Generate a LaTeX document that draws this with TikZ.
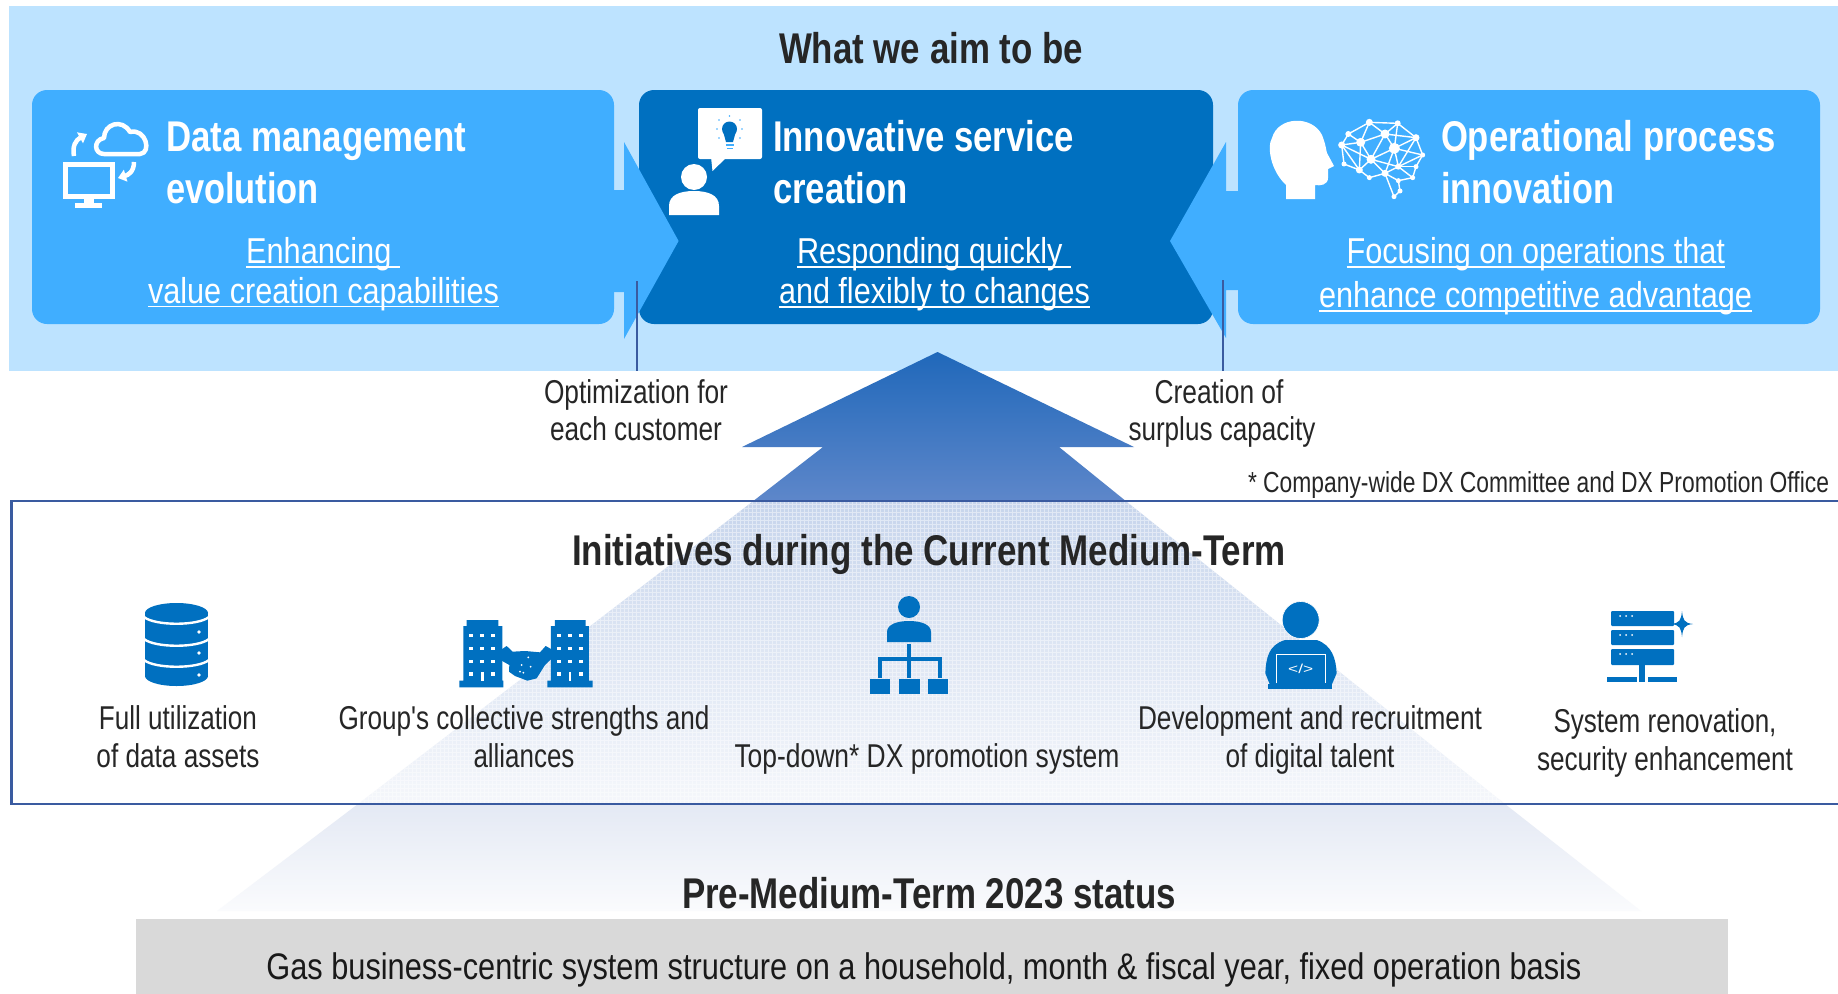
\documentclass[tikz,border=0pt]{standalone}
\usepackage{fontspec}
\usepackage{graphicx}
\setmainfont{Liberation Sans}
\newfontfamily\plainf{Liberation Sans}
\usetikzlibrary{arrows.meta}
\definecolor{bandc}{HTML}{BDE3FF}
\definecolor{midc}{HTML}{40AEFF}
\definecolor{darkc}{HTML}{0070C0}
\definecolor{linec}{HTML}{3A5BA0}
\definecolor{ink}{HTML}{262626}
\definecolor{greyc}{HTML}{D9D9D9}
\definecolor{upa}{HTML}{2068BA}
\definecolor{upb}{HTML}{5E87CA}
\definecolor{upc}{HTML}{C7D5EC}
\definecolor{upd}{HTML}{F5F7FB}
\definecolor{upe}{HTML}{E4E9F4}
\definecolor{upf}{HTML}{FAFBFD}
\newcommand\tw[2]{\resizebox{#1pt}{\height}{#2}}
\tikzset{
  txt/.style={inner sep=0pt,outer sep=0pt,text=ink,anchor=base},
  wtxt/.style={txt,text=white},
  big/.style={font=\fontsize{43}{50}\selectfont\bfseries},
  subt/.style={font=\fontsize{36}{42}\selectfont},
  lab/.style={font=\fontsize{33}{38}\selectfont},
  foot/.style={font=\fontsize{29}{34}\selectfont},
  ul/.style={white,line width=1.8pt},
  conn/.style={linec,line width=1.6pt},
  panel/.style={rounded corners=15pt}
}
\begin{document}
\begin{tikzpicture}[x=1pt,y=-1pt]
\useasboundingbox (0,0) rectangle (1838,993);
\fill[white] (0,0) rectangle (1838,993);
% band
\fill[bandc] (9,6) rectangle (1838,371);
% panels
\fill[midc,panel] (32,90) rectangle (614,324);
\fill[darkc,panel] (639,90) rectangle (1213,324);
\fill[midc,panel] (1238,90) rectangle (1820,324);
% side arrows
\fill[midc] (612,190) -- (624,190) -- (624,142) -- (678.6,241) -- (624,339) -- (624,292) -- (612,292) -- cycle;
\fill[midc] (1240,191) -- (1226,191) -- (1226,142) -- (1170,241) -- (1226,338) -- (1226,290) -- (1240,290) -- cycle;
% connectors
\coordinate (optstart) at (637,281);
\coordinate (optend) at (637,371);
\coordinate (surstart) at (1223,280);
\coordinate (surend) at (1223,371);
\draw[conn] (optstart) -- (optend);
\draw[conn,line width=2.2pt] (surstart) -- (surend);
% big up arrow
\shade[top color=upa,bottom color=upb] (937.5,352) -- (1134,447) -- (1059,447) -- (1127,502) -- (752,502) -- (823,447) -- (742,447) -- cycle;
\shade[top color=upc,bottom color=upd] (752,502) -- (1127,502) -- (1505,804) -- (358,804) -- cycle;
\begin{scope}
\clip (752,502) -- (1127,502) -- (1505,804) -- (358,804) -- cycle;
\draw[white,line width=.9pt,opacity=.45,step=4pt] (350,500) grid (1510,806);
\end{scope}
\shade[top color=upe,bottom color=upf] (358,804) -- (1505,804) -- (1641,911) -- (217,911) -- cycle;
% frame
\draw[linec,line width=2.6pt] (1840,501) -- (11.5,501) -- (11.5,804) -- (1840,804);
% grey bar
\fill[greyc] (136,919) rectangle (1728,995);
% === icon: cloud / monitor
\draw[white,line width=4.5pt,line join=round] (104,154) .. controls (94,154) and (93,140) .. (104,138) .. controls (104,124) and (122,118) .. (130,132) .. controls (146,128) and (152,153) .. (140,154) -- cycle;
\draw[white,line width=5pt] (65,164) rectangle (112,196);
\fill[white] (84,197) rectangle (94,203);
\fill[white] (75,203) rectangle (102,208);
\draw[white,line width=4.5pt,-{Triangle[length=8pt,width=12pt]}] (74,156) .. controls (72,146) and (76,140) .. (87,134);
\draw[white,line width=4.5pt,-{Triangle[length=8pt,width=12pt]}] (134,162) .. controls (134,172) and (128,175) .. (118,178);
% === icon: bubble / person
\fill[white,rounded corners=2pt] (698,108) rectangle (762,159);
\fill[white] (711,157) -- (712.5,171) -- (727,157) -- cycle;
\fill[darkc] (729.5,129) circle (7.5pt);
\fill[darkc] (723.5,133) -- (735.5,133) -- (733,142) -- (726,142) -- cycle;
\fill[midc] (725.5,144) rectangle (733.5,146);
\fill[midc] (726.5,147.5) rectangle (732.5,149);
\foreach \a/\b in {717/129,719/120,719/138,742/129,740/120,740/138,729.5/116}{\fill[midc] (\a,\b) circle (.9pt);}
\fill[white] (694,177) circle (13pt);
\fill[white] (669,215) -- (669,206) .. controls (669,195) and (680,191) .. (694,191) .. controls (708,191) and (719,195) .. (719,206) -- (719,215) -- cycle;
% === icon: head
\fill[white] (1286,199) -- (1286,185) .. controls (1270,170) and (1267,146) .. (1272,138) .. controls (1278,116) and (1312,115) .. (1322,135) .. controls (1326,145) and (1326,150) .. (1327,153) -- (1334,166) -- (1328,169) -- (1328,178) .. controls (1328,185) and (1320,186) .. (1315,185) -- (1315,199) -- cycle;
% === icon: brain network
\begin{scope}[shift={(1330,110)},x=.3333pt,y=-.3333pt]
\foreach \n/\a/\b in {a/35/105,b/55/72,c/118/37,d/203/40,e/258/83,f/278/135,g/258/170,h/248/203,i/205/212,j/210/243,k/192/260,l/165/190,m/118/203,n/88/180,o/42/162,p/92/97,q/165/72,r/193/115,s/123/148,t/205/170}{\coordinate (br\n) at (\a,\b);}
\foreach \p/\q in {a/b,b/c,c/d,d/e,e/f,f/g,g/h,h/i,i/l,l/m,m/n,n/o,o/a,a/p,b/p,c/p,p/q,c/q,q/d,q/e,q/r,d/r,e/r,r/f,r/t,r/s,s/q,s/p,s/a,s/n,s/l,s/t,t/g,t/l,t/h,t/f,l/k,k/j,j/i,n/p,a/n,l/r,e/t}{\draw[white,line width=1.4pt] (br\p) -- (br\q);}
\foreach \n/\w in {a/3.5,b/3,c/3.5,d/3,e/3.5,f/2.5,g/2.5,h/2.5,i/2.5,j/2.5,k/2.5,l/3.5,m/2.5,n/3.5,o/2.5,p/4.5,q/4.5,r/5.5,s/4.5,t/3}{\fill[white] (br\n) circle (\w pt);}
\end{scope}
% === icon: database
\fill[darkc] (145,613) rectangle (208,676);
\fill[darkc] (176.5,613) ellipse (31.5pt and 10pt);
\fill[darkc] (176.5,676) ellipse (31.5pt and 10pt);
\foreach \b in {617,639,660}{\draw[white,line width=2.4pt] (144,\b) .. controls (155,{\b+9}) and (198,{\b+9}) .. (209,\b);}
\foreach \b in {632,653,675}{\fill[white] (199,\b) circle (1.8pt);}
% === icon: buildings + handshake
\begin{scope}[shift={(440,600)},x=.3333pt,y=-.3333pt]
\fill[darkc] (80,60) -- (175,60) -- (175,78) -- (187,78) -- (187,242) -- (190,242) -- (190,262) -- (58,262) -- (58,242) -- (70,242) -- (70,78) -- (80,78) -- cycle;
\fill[darkc] (345,60) -- (437,60) -- (437,78) -- (447,78) -- (447,242) -- (458,242) -- (458,262) -- (322,262) -- (322,242) -- (333,242) -- (333,78) -- (345,78) -- cycle;
\foreach \a in {93,127,160,357,390,423}{\foreach \b in {107,145,185}{\fill[white] ({\a-6},{\b-5}) rectangle ({\a+6},{\b+5});}}
\foreach \a in {93,160,357,423}{\fill[white] ({\a-6},217) rectangle ({\a+6},228);}
\foreach \a in {127,390}{\fill[white] ({\a-4},215) rectangle ({\a+4},243);}
\fill[darkc] (185,148) -- (200,138) -- (218,155) -- (255,153) -- (300,157) -- (317,138) -- (335,148) -- (333,178) -- (315,195) -- (290,235) -- (262,242) -- (225,228) -- (207,215) -- (208,195) -- (185,182) -- cycle;
\foreach \a/\b in {265/172,245/195,272/200,240/215,250/218}{\fill[white] (\a,\b) circle (1pt);}
\end{scope}
% === icon: org chart
\fill[darkc] (909,607) circle (11pt);
\fill[darkc] (887,642) -- (887,632) .. controls (887,624) and (898,621) .. (909,621) .. controls (920,621) and (931,624) .. (931,632) -- (931,642) -- cycle;
\draw[darkc,line width=3.5pt] (909,644) -- (909,678);
\draw[darkc,line width=3.5pt] (880,678) -- (880,659) -- (940,659) -- (940,678);
\foreach \a/\b in {870/890,899/920,928/948}{\fill[darkc] (\a,679) rectangle (\b,694);}
% === icon: person laptop
\begin{scope}[shift={(1250,595)},x=.3333pt,y=-.3333pt]
\fill[darkc] (46,235) .. controls (48,190) and (55,150) .. (105,135) -- (200,135) .. controls (245,150) and (258,190) .. (260,235) -- (245,270) -- (60,270) -- cycle;
\fill[darkc,draw=white,line width=.6pt] (152,75) circle (18.5pt);
\draw[white,line width=.8pt] (78,265) -- (78,178) -- (225,178) -- (225,265);
\fill[darkc] (55,267) rectangle (247,283);
\node[txt,text=white,font=\fontsize{13}{16}\selectfont] (codetag) at (152,236) {\tw{25}{</>}};
\end{scope}
% === icon: server
\foreach \a/\b in {611/626,630/645,649/665}{
  \fill[darkc,rounded corners=1pt] (1611,\a) rectangle (1674,\b);
  \foreach \d in {1620,1626,1632}{\fill[white] (\d,{\a+5}) circle (1pt);}
}
\fill[darkc] (1639,665) rectangle (1645,677);
\fill[darkc] (1607,677) rectangle (1637,682);
\fill[darkc] (1639,677) rectangle (1645,682);
\fill[darkc] (1648,677) rectangle (1677,682);
\fill[darkc] (1682,611) .. controls (1683,620) and (1684,623) .. (1693,624) .. controls (1684,625) and (1683,628) .. (1682,637) .. controls (1681,628) and (1680,625) .. (1671,624) .. controls (1680,623) and (1681,620) .. (1682,611) -- cycle;
% === text
\node[txt,big] (title) at (931,63) {\tw{304}{What we aim to be}};
\node[wtxt,big,anchor=base west] (dm1) at (166,151) {\tw{300}{Data management}};
\node[wtxt,big,anchor=base west] (dm2) at (166,203) {\tw{153}{evolution}};
\node[wtxt,subt,anchor=base west] (dm3) at (246,263) {\tw{154}{Enhancing\ }};
\node[wtxt,subt,anchor=base west] (dm4) at (148,303) {\tw{351}{value creation capabilities}};
\draw[ul] ([yshift=-4pt]dm3.base west) -- ([yshift=-4pt]dm3.base east);
\draw[ul] ([yshift=-3.5pt]dm4.base west) -- ([yshift=-3.5pt]dm4.base east);
\node[wtxt,big,anchor=base west] (is1) at (773,151) {\tw{301}{Innovative service}};
\node[wtxt,big,anchor=base west] (is2) at (773,203) {\tw{135}{creation}};
\node[wtxt,subt,anchor=base west] (is3) at (797,263) {\tw{274}{Responding quickly\ }};
\node[wtxt,subt,anchor=base west] (is4) at (779,303) {\tw{311}{and flexibly to changes}};
\draw[ul] ([yshift=-4pt]is3.base west) -- ([yshift=-4pt]is3.base east);
\draw[ul] ([yshift=-4pt]is4.base west) -- ([yshift=-4pt]is4.base east);
\node[wtxt,big,anchor=base west] (op1) at (1441,151) {\tw{335}{Operational process}};
\node[wtxt,big,anchor=base west] (op2) at (1441,203) {\tw{173}{innovation}};
\node[wtxt,subt,anchor=base west] (op3) at (1346.5,263) {\tw{378.5}{Focusing on operations that}};
\node[wtxt,subt,anchor=base west] (op4) at (1319,307) {\tw{433}{enhance competitive advantage}};
\draw[ul] ([yshift=-4pt]op3.base west) -- ([yshift=-4pt]op3.base east);
\draw[ul] ([yshift=-4pt]op4.base west) -- ([yshift=-4pt]op4.base east);
\node[txt,lab] (opt1) at (636,403) {\tw{184}{Optimization for}};
\node[txt,lab] (opt2) at (636,440) {\tw{172}{each customer}};
\node[txt,lab] (sur1) at (1219,403) {\tw{129}{Creation of}};
\node[txt,lab] (sur2) at (1222,440) {\tw{187}{surplus capacity}};
\node[txt,foot,anchor=base west] (fn) at (1248,492) {\tw{581}{* Company-wide DX Committee and DX Promotion Office}};
\node[txt,big] (ini) at (929,565) {\tw{714}{Initiatives during the Current Medium-Term}};
\node[txt,lab] (fu1) at (178,729) {\tw{158}{Full utilization}};
\node[txt,lab] (fu2) at (178,767) {\tw{163}{of data assets}};
\node[txt,lab] (gr1) at (524,729) {\tw{371}{Group{\plainf\char39}s collective strengths and}};
\node[txt,lab] (gr2) at (524,767) {\tw{101}{alliances}};
\node[txt,lab] (td) at (927,767) {\tw{385}{Top-down* DX promotion system}};
\node[txt,lab] (de1) at (1310,729) {\tw{344}{Development and recruitment}};
\node[txt,lab] (de2) at (1310,767) {\tw{169}{of digital talent}};
\node[txt,lab] (sy1) at (1665,732) {\tw{223}{System renovation,}};
\node[txt,lab] (sy2) at (1665,770) {\tw{256}{security enhancement}};
\node[txt,big] (pre) at (929,908) {\tw{494}{Pre-Medium-Term 2023 status}};
\node[txt,font=\fontsize{37}{42}\selectfont,text=black!90] (gas) at (924,979) {\tw{1315}{Gas business-centric system structure on a household, month \& fiscal year, fixed operation basis}};
\end{tikzpicture}
\end{document}
